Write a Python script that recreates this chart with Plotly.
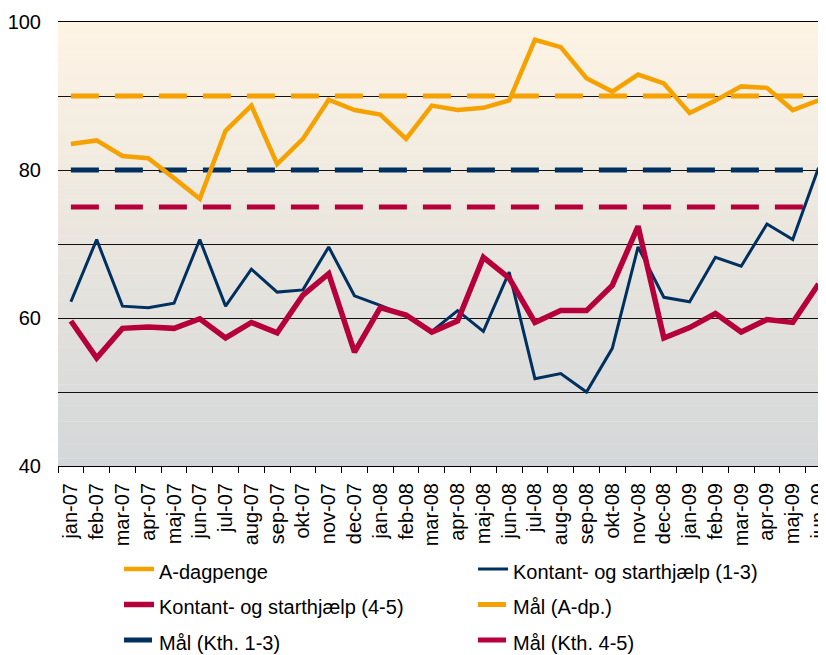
import plotly.graph_objects as go

months = ["jan-07","feb-07","mar-07","apr-07","maj-07","jun-07","jul-07","aug-07","sep-07","okt-07",
          "nov-07","dec-07","jan-08","feb-08","mar-08","apr-08","maj-08","jun-08","jul-08","aug-08",
          "sep-08","okt-08","nov-08","dec-08","jan-09","feb-09","mar-09","apr-09","maj-09","jun-09"]

a_dagpenge = [83.5, 84.0, 81.9, 81.6, 78.9, 76.1, 85.3, 88.7, 80.8, 84.2,
              89.5, 88.1, 87.5, 84.2, 88.7, 88.1, 88.4, 89.4, 97.6, 96.6,
              92.4, 90.6, 92.9, 91.7, 87.7, 89.4, 91.3, 91.1, 88.1, 89.4]

kth_1_3 = [62.2, 70.6, 61.6, 61.4, 62.0, 70.6, 61.6, 66.6, 63.5, 63.8,
           69.6, 63.0, 61.7, 60.3, 58.2, 61.0, 58.2, 66.2, 51.8, 52.5,
           50.0, 55.9, 69.6, 62.8, 62.2, 68.2, 67.0, 72.7, 70.6, 80.3]

kth_4_5 = [59.6, 54.6, 58.6, 58.8, 58.6, 59.9, 57.3, 59.4, 58.0, 63.1,
           66.0, 55.4, 61.4, 60.4, 58.1, 59.6, 68.2, 65.4, 59.4, 61.0,
           61.0, 64.4, 72.4, 57.3, 58.7, 60.6, 58.1, 59.8, 59.4, 64.6]

target_names = ["Mål (A-dp.)", "Mål (Kth. 1-3)", "Mål (Kth. 4-5)"]
target_values = [90, 80, 75]

y_tickvals = [40, 50, 60, 70, 80, 90, 100]
y_ticktext = ["40", "", "60", "", "80", "", "100"]

ORANGE = "#F5A200"
NAVY = "#00305F"
CRIMSON = "#B5003B"
FONT = "Liberation Sans, Arial, sans-serif"


def lg(name):
    return '<span style="font-size:20px">%s</span>' % name


fig = go.Figure()

# target (dashed) lines
for name, val, col, rank in zip(target_names, target_values, [ORANGE, NAVY, CRIMSON], [4, 5, 6]):
    fig.add_trace(go.Scatter(x=[months[0], months[-1]], y=[val, val], mode="lines", name=lg(name),
                             line=dict(color=col, width=5, dash="28px,16px"), legendrank=rank,
                             hoverinfo="skip"))

fig.add_trace(go.Scatter(x=months, y=a_dagpenge, mode="lines", name=lg("A-dagpenge"),
                         line=dict(color=ORANGE, width=4.5), legendrank=1))
fig.add_trace(go.Scatter(x=months, y=kth_1_3, mode="lines", name=lg("Kontant- og starthjælp (1-3)"),
                         line=dict(color=NAVY, width=3), legendrank=2))
fig.add_trace(go.Scatter(x=months, y=kth_4_5, mode="lines", name=lg("Kontant- og starthjælp (4-5)"),
                         line=dict(color=CRIMSON, width=5.5), legendrank=3))

# gradient background of plot area (cream at top to grey at bottom)
top = (254, 244, 228)
bot = (212, 215, 217)
n = 60
shapes = []
for i in range(n):
    t = (i + 0.5) / n
    c = tuple(round(top[k] + (bot[k] - top[k]) * t) for k in range(3))
    shapes.append(dict(type="rect", xref="x domain", yref="y domain",
                       x0=0, x1=1, y0=1 - (i + 1) / n, y1=1 - i / n + 0.001,
                       fillcolor="rgb(%d,%d,%d)" % c, line=dict(width=0), layer="below"))

fig.update_layout(
    width=826, height=655,
    margin=dict(l=50, r=0, t=14, b=197, autoexpand=False),
    paper_bgcolor="white",
    plot_bgcolor="white",
    shapes=shapes,
    font=dict(family=FONT, size=20, color="black"),
    showlegend=True,
    legend=dict(orientation="h", x=0.0786, y=-0.181, xanchor="left", yanchor="top",
                entrywidth=309, entrywidthmode="pixels",
                font=dict(family=FONT, size=25, color="black"),
                bgcolor="rgba(0,0,0,0)", traceorder="normal"),
    xaxis=dict(type="category", categoryorder="array", categoryarray=months,
               range=[-0.5, 29.6], showgrid=False, showline=True, linecolor="black", linewidth=1,
               mirror=True, automargin=False,
               ticks="outside", tickson="boundaries", ticklen=6, tickcolor="black",
               ticklabelstandoff=8,
               tickangle=-90, tickfont=dict(family=FONT, size=20, color="black")),
    yaxis=dict(range=[40, 100], tickvals=y_tickvals, ticktext=y_ticktext, automargin=False,
               showgrid=True, gridcolor="#111", gridwidth=1, zeroline=False, showline=False,
               ticks="", ticklabelstandoff=16, tickfont=dict(family=FONT, size=20, color="black")),
)

fig.write_html("out.html")
